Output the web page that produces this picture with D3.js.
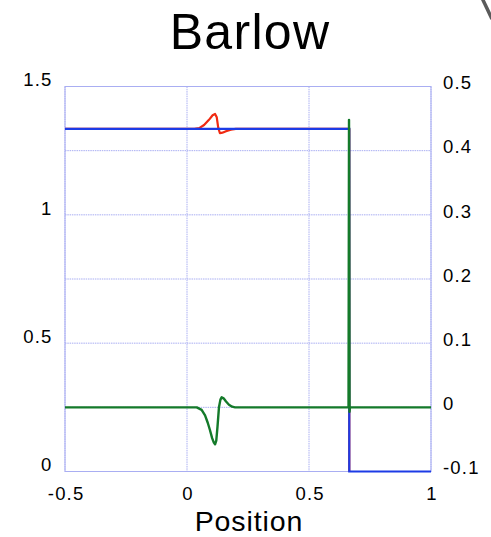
<!DOCTYPE html>
<html>
<head>
<meta charset="utf-8">
<script src="https://cdn.jsdelivr.net/npm/d3@7"></script>
<style>
  html, body { margin: 0; padding: 0; background: #fff; }
  svg { display: block; font-family: "Liberation Sans", Arial, sans-serif; }
  .tick text { font-size: 18.5px; letter-spacing: 1.2px; fill: #000; font-family: "Liberation Sans", Arial, sans-serif; }
</style>
</head>
<body>
<script>
// Density-type profile (left axis) and its numerical counterpart
const redX  = [-0.5, 0.03, 0.05, 0.07, 0.09, 0.105, 0.115, 0.122, 0.128, 0.135, 0.145, 0.16, 0.18, 0.2, 0.665, 0.665];
const redY  = [1.335, 1.335, 1.338, 1.35, 1.37, 1.388, 1.393, 1.38, 1.34, 1.318, 1.32, 1.326, 1.332, 1.335, 1.335, 0];

const blueX = [-0.5, 0.665, 0.665, 1.0];
const blueY = [1.335, 1.335, 0, 0];

// Difference curve (right axis)
const greenX = [-0.5, 0.04, 0.06, 0.074, 0.085, 0.094, 0.103, 0.11, 0.115, 0.12, 0.125, 0.131, 0.137, 0.142, 0.15, 0.16, 0.172, 0.185, 0.197, 0.662, 0.664, 0.666, 0.668, 1.0];
const greenY = [0, 0, -0.004, -0.0125, -0.024, -0.0353, -0.048, -0.055, -0.0576, -0.052, -0.03, 0, 0.012, 0.0156, 0.014, 0.009, 0.004, 0.001, 0, 0, 0.448, -0.007, 0, 0];

const xTicks      = [-0.5, 0, 0.5, 1];
const leftTicks   = [0, 0.5, 1, 1.5];
const rightTicks  = [-0.1, 0, 0.1, 0.2, 0.3, 0.4, 0.5];
const titleText   = "Barlow";
const xLabelText  = "Position";

const W = 491, H = 537;
const plot = { left: 65, right: 431, top: 86.5, bottom: 471.5 };

const svg = d3.select("body").append("svg").attr("width", W).attr("height", H);

const x  = d3.scaleLinear().domain([-0.5, 1]).range([plot.left, plot.right]);
const yL = d3.scaleLinear().domain([0, 1.5]).range([plot.bottom, plot.top]);
const yR = d3.scaleLinear().domain([-0.1, 0.5]).range([plot.bottom, plot.top]);

const gridColor = "#a9aef2";
const fmt = d => String(d);   // plain hyphen minus, no trailing zeros

// Grid: horizontal lines follow the right-hand axis ticks, vertical at x ticks
const grid = svg.append("g");
grid.selectAll("line.h").data(rightTicks).enter().append("line")
  .attr("x1", plot.left).attr("x2", plot.right)
  .attr("y1", d => yR(d)).attr("y2", d => yR(d))
  .attr("stroke", gridColor).attr("stroke-width", 1).attr("stroke-dasharray", "1.5,0.8");
grid.selectAll("line.v").data(xTicks).enter().append("line")
  .attr("x1", d => x(d)).attr("x2", d => x(d))
  .attr("y1", plot.top).attr("y2", plot.bottom)
  .attr("stroke", gridColor).attr("stroke-width", 1).attr("stroke-dasharray", "1.5,0.8");
grid.append("rect")
  .attr("x", plot.left).attr("y", plot.top)
  .attr("width", plot.right - plot.left).attr("height", plot.bottom - plot.top)
  .attr("fill", "none").attr("stroke", gridColor).attr("stroke-width", 1);

// Axes (labels only, no tick marks)
const xAxis = svg.append("g").attr("transform", `translate(0,${plot.bottom})`)
  .call(d3.axisBottom(x).tickValues(xTicks).tickSize(0).tickPadding(0).tickFormat(fmt));
const lAxis = svg.append("g").attr("transform", `translate(${plot.left},0)`)
  .call(d3.axisLeft(yL).tickValues(leftTicks).tickSize(0).tickPadding(12.5).tickFormat(fmt));
const rAxis = svg.append("g").attr("transform", `translate(${plot.right},0)`)
  .call(d3.axisRight(yR).tickValues(rightTicks).tickSize(0).tickPadding(12).tickFormat(fmt));
[xAxis, lAxis, rAxis].forEach(g => g.select(".domain").remove());
xAxis.selectAll("text").attr("y", 28.5).attr("dy", 0).attr("dx", "0.6");
lAxis.selectAll("text").attr("dy", "-0.03em");
rAxis.selectAll("text").attr("dy", "0.12em");

// Curves
const lineL = d3.line().x(d => x(d[0])).y(d => yL(d[1]));
const lineR = d3.line().x(d => x(d[0])).y(d => yR(d[1]));

svg.append("path").datum(d3.zip(redX, redY)).attr("d", lineL)
  .attr("fill", "none").attr("stroke", "#f02a12").attr("stroke-width", 2.2).attr("stroke-linejoin", "round");
svg.append("path").datum(d3.zip(blueX, blueY)).attr("d", lineL)
  .attr("fill", "none").attr("stroke", "#1c3be6").attr("stroke-width", 2.2);
svg.append("path").datum(d3.zip(greenX, greenY)).attr("d", lineR)
  .attr("fill", "none").attr("stroke", "#147a2a").attr("stroke-width", 2.4).attr("stroke-linejoin", "round");

// Title and axis label
svg.append("text").attr("x", 250).attr("y", 48.5).attr("text-anchor", "middle")
  .attr("font-size", 50).attr("letter-spacing", 1.3).attr("fill", "#000").text(titleText);
svg.append("text").attr("x", 249).attr("y", 530.8).attr("text-anchor", "middle")
  .attr("font-size", 28.5).attr("letter-spacing", 0.9).attr("fill", "#000").text(xLabelText);

// Corner mark at the top right
svg.append("line").attr("x1", 482.5).attr("y1", -1).attr("x2", 492).attr("y2", 19)
  .attr("stroke", "#5a5a5a").attr("stroke-width", 3.5);
</script>
</body>
</html>
